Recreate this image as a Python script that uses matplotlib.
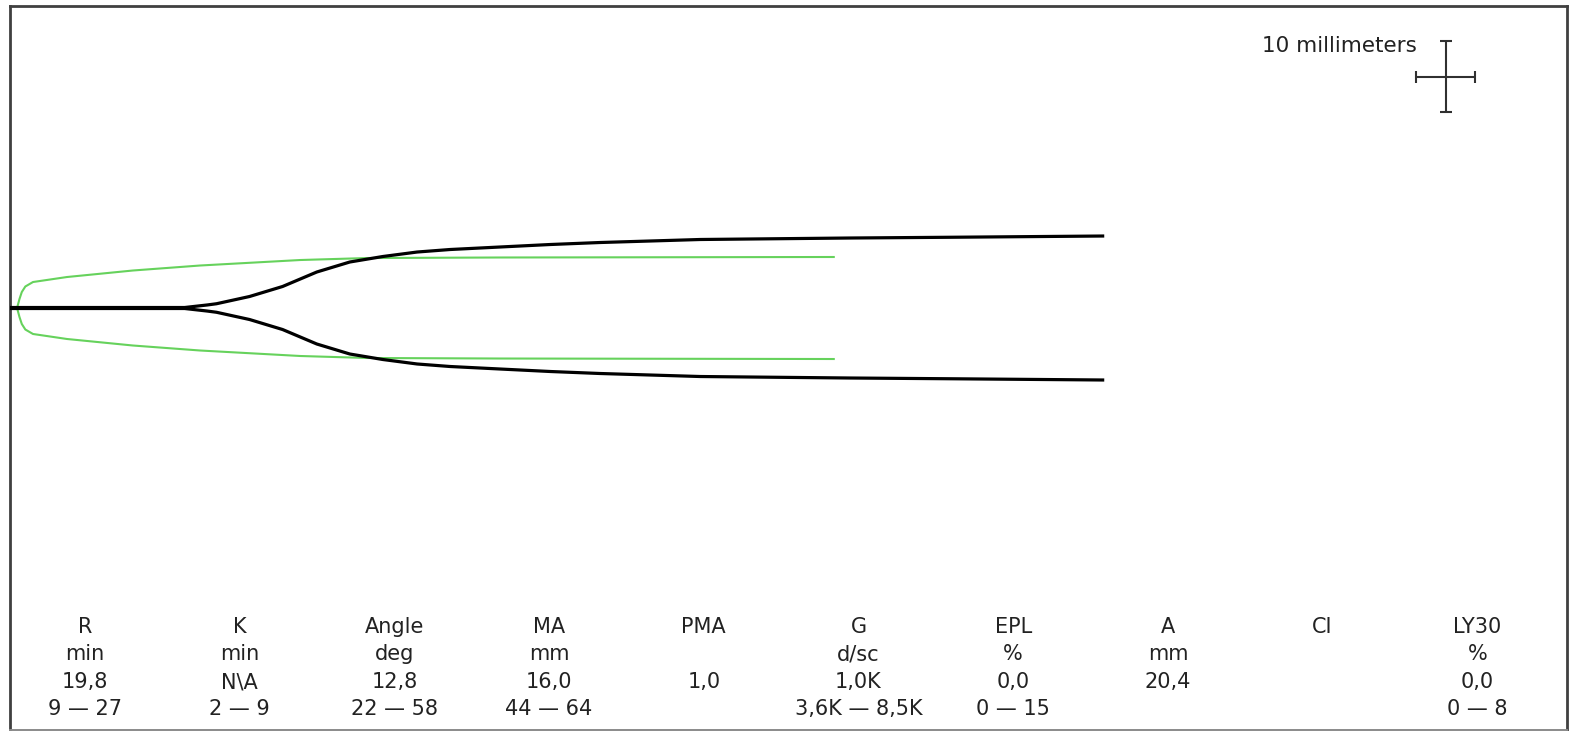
import matplotlib
matplotlib.use("Agg")
import matplotlib.pyplot as plt
import numpy as np

# ---- data ----
# patient tracing: time (min) and full amplitude (mm)
trace_time = [0, 14.8, 16.7, 17.5, 20.3, 23.1, 26.0, 28.8, 31.6, 34.5, 37.3,
              41.5, 45.8, 50.0, 54.2, 58.5, 62.7, 71.2, 79.7, 92.6]
trace_amp = [0.14, 0.14, 0.85, 1.20, 3.24, 6.06, 10.14, 12.96, 14.51, 15.77, 16.48,
             17.18, 17.89, 18.45, 18.87, 19.30, 19.44, 19.72, 19.93, 20.28]

# reference (green) tracing
ref_time = [0, 0.6, 0.8, 1.0, 1.3, 1.95, 4.83, 10.4, 16.1, 24.6, 30.3, 41.5, 69.9]
ref_amp = [0, 0, 2.5, 4.5, 6.06, 7.32, 8.73, 10.56, 11.97, 13.52, 14.08, 14.23, 14.37]

param_names = ["R", "K", "Angle", "MA", "PMA", "G", "EPL", "A", "CI", "LY30"]
param_units = ["min", "min", "deg", "mm", "", "d/sc", "%", "mm", "", "%"]
param_values = ["19,8", "N\\A", "12,8", "16,0", "1,0", "1,0K", "0,0", "20,4", "", "0,0"]
param_ranges = ["9 \u2014 27", "2 \u2014 9", "22 \u2014 58", "44 \u2014 64", "",
                "3,6K \u2014 8,5K", "0 \u2014 15", "", "", "0 \u2014 8"]

scale_label = "10 millimeters"

# ---- figure ----
W, H = 1570, 731
fig = plt.figure(figsize=(W / 100, H / 100), dpi=100)
ax = fig.add_axes([9.5 / W, 1 - 729.5 / H, (1566.5 - 9.5) / W, (729.5 - 5.5) / H])
ax.set_xlim(-0.042, 131.91)
ax.set_ylim(-59.37, 42.61)
ax.set_xticks([])
ax.set_yticks([])
for side, sp in ax.spines.items():
    sp.set_color("#404040")
    sp.set_linewidth(2.0)
ax.spines["bottom"].set_color("#8a8a8a")
ax.spines["bottom"].set_linewidth(1.4)

green = "#66d25c"
rt = np.array(ref_time)
ra = np.array(ref_amp)
ax.plot(rt, ra / 2, color=green, lw=1.5, solid_capstyle="butt", zorder=2)
ax.plot(rt, -ra / 2, color=green, lw=1.5, solid_capstyle="butt", zorder=2)

tt = np.array(trace_time)
ta = np.array(trace_amp)
ax.plot(tt, ta / 2, color="black", lw=2.3, zorder=3)
ax.plot(tt, -ta / 2, color="black", lw=2.3, zorder=3)

# scale cross: 10 mm each way (x: 2 mm/min)
cx, cy = 121.69, 32.54
hx, hy = 2.5, 5.0
capx, capy = 0.5, 0.85
kw = dict(color="#303030", lw=1.5, solid_capstyle="butt")
ax.plot([cx - hx, cx + hx], [cy, cy], **kw)
ax.plot([cx, cx], [cy - hy, cy + hy], **kw)
ax.plot([cx - capx, cx + capx], [cy + hy, cy + hy], **kw)
ax.plot([cx - capx, cx + capx], [cy - hy, cy - hy], **kw)
ax.plot([cx - hx, cx - hx], [cy - capy, cy + capy], **kw)
ax.plot([cx + hx, cx + hx], [cy - capy, cy + capy], **kw)
fig.text(1417 / W, 1 - 52.5 / H, scale_label, ha="right", va="baseline",
         fontsize=15.5, color="#222222", family="DejaVu Sans")

# parameter table
col0, dcol = 85, 154.7
rows_base = [633, 660.5, 688, 715]
for i in range(len(param_names)):
    x = (col0 + dcol * i) / W
    for ry, txt in zip(rows_base, [param_names[i], param_units[i], param_values[i], param_ranges[i]]):
        if txt:
            fig.text(x, 1 - ry / H, txt, ha="center", va="baseline", fontsize=15,
                     color="#222222", family="DejaVu Sans")

fig.savefig("out.png", dpi=100)
